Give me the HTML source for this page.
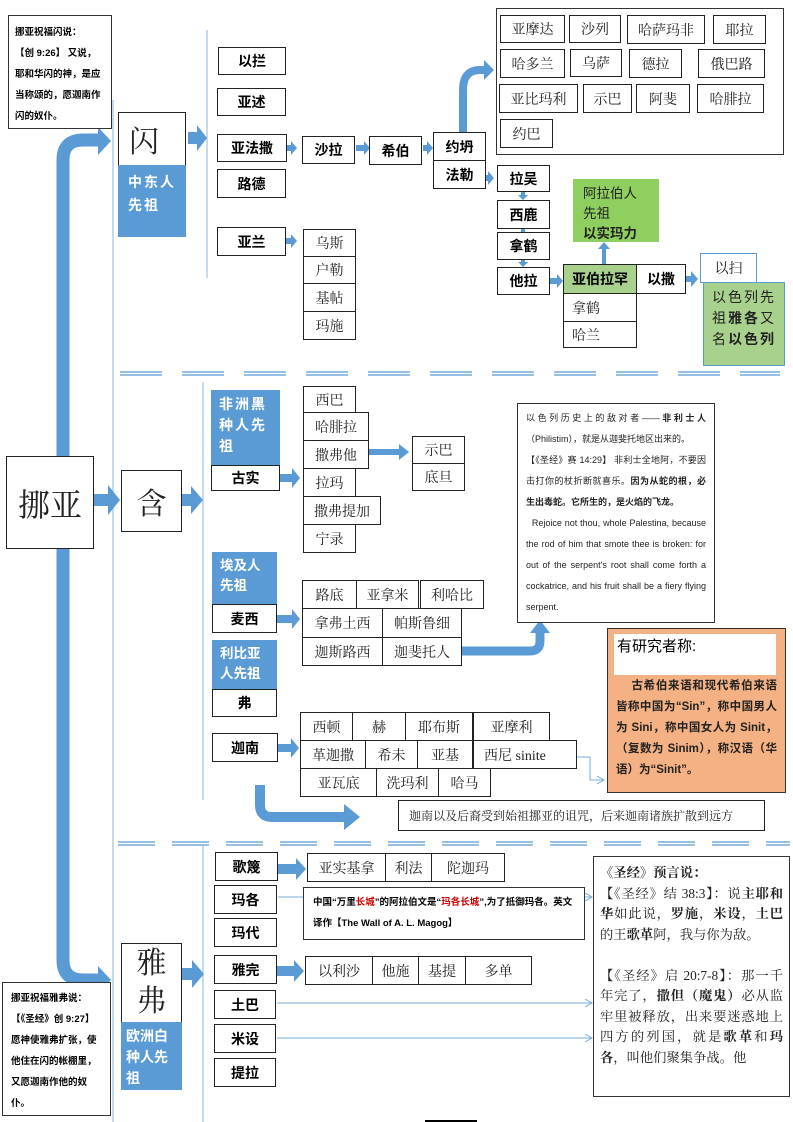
<!DOCTYPE html>
<html><head><meta charset="utf-8"><style>
body{margin:0;width:793px;height:1122px;position:relative;background:#fff;overflow:hidden;font-family:"Liberation Sans","Noto Sans CJK SC",sans-serif;}
.b{position:absolute;box-sizing:border-box;border:1.5px solid #222;background:#fff;display:flex;align-items:center;justify-content:center;font-size:14px;color:#222;}
.k{font-weight:bold;color:#000;}
.s{font-family:"Liberation Serif","Noto Serif CJK SC",serif;font-size:14px;}
.blue{position:absolute;box-sizing:border-box;background:#5b9bd5;color:#fff;font-weight:bold;font-size:14px;line-height:23px;padding:6px 10px;letter-spacing:2px;}
.t{position:absolute;box-sizing:border-box;border:1.5px solid #333;background:#fff;}
svg{position:absolute;left:0;top:0;}
</style></head><body>
<svg width="793" height="1122">
<defs>
<marker id="m" markerWidth="8" markerHeight="8" refX="7" refY="4" orient="auto"><path d="M0,0 L7,4 L0,8" fill="none" stroke="#7aaedb" stroke-width="1"/></marker>
</defs>
<line x1="113" y1="100" x2="113" y2="1122" stroke="#9cc2e5" stroke-width="1.2"/>
<line x1="207" y1="30" x2="207" y2="278" stroke="#9cc2e5" stroke-width="1.2"/>
<line x1="203" y1="382" x2="203" y2="800" stroke="#9cc2e5" stroke-width="1.2"/>
<line x1="203" y1="846" x2="203" y2="1122" stroke="#9cc2e5" stroke-width="1.2"/>
<g stroke="#5b9bd5" stroke-width="1.3">
<path d="M120,372H780M120,375H780" stroke-dasharray="42,20"/>
<path d="M118,842H790M118,845H790" stroke-dasharray="37,17"/>
</g>
<path d="M63,456 V160 Q63,140 83,140 H100" fill="none" stroke="#5b9bd5" stroke-width="13"/>
<path d="M98,127 L111,141 L98,155Z" fill="#5b9bd5"/>
<path d="M63,548 V960 Q63,980 83,980 H100" fill="none" stroke="#5b9bd5" stroke-width="13"/>
<path d="M98,966 L111,980 L98,994Z" fill="#5b9bd5"/>
<g fill="#5b9bd5">
<path d="M188,132h9v-7l10,13l-10,13v-7h-9z"/>
<path d="M93,494h15v-9l12,15l-12,15v-9h-15z"/>
<path d="M181,494h10v-8l12,14l-12,14v-8h-10z"/>
<path d="M182,968h10v-8l12,14l-12,14v-8h-10z"/>
<path d="M283,145h8v-4l6,7l-6,7v-4h-8z"/>
<path d="M356,145h8v-4l6,7l-6,7v-4h-8z"/>
<path d="M423,145h4v-4l6,7l-6,7v-4h-4z"/>
<path d="M283,238h8v-4l6,7l-6,7v-4h-8z"/>
<path d="M480,175h8v-4l6,7l-6,7v-4h-8z"/>
<path d="M521,191h4v4h3l-5,5l-5,-5h3z"/>
<path d="M521,229h4v4h3l-5,5l-5,-5h3z"/>
<path d="M521,259h4v3h3l-5,5l-5,-5h3z"/>
<path d="M545,278h12v-4l6,7l-6,7v-4h-12z"/>
<path d="M636,279h5v-4l5,6l-5,6v-4h-5z"/>
<path d="M602,264v-15h-4l6,-7l6,7h-4v15z"/>
<path d="M679,276h12v-5l7,8l-7,8v-5h-12z"/>
<path d="M278,474h14v-6l8,10l-8,10v-6h-14z"/>
<path d="M369,449h30v-5l10,8l-10,8v-5h-30z"/>
<path d="M276,615h16v-6l8,10l-8,10v-6h-16z"/>
<path d="M275,744h16v-6l8,10l-8,10v-6h-16z"/>
<path d="M278,864h18v-6l10,11l-10,11v-6h-18z"/>
<path d="M277,966h17v-6l10,11l-10,11v-6h-17z"/>
</g>
<path d="M463,133V90Q463,70 480,70H485" fill="none" stroke="#5b9bd5" stroke-width="8"/>
<path d="M484,60L494,70L484,80Z" fill="#5b9bd5"/>
<path d="M462,651H530Q540,651 540,641V632" fill="none" stroke="#5b9bd5" stroke-width="9"/>
<path d="M530,633L540,620L550,633Z" fill="#5b9bd5"/>
<path d="M260,785V805Q260,817 272,817H345" fill="none" stroke="#5b9bd5" stroke-width="10"/>
<path d="M344,804L360,817L344,830Z" fill="#5b9bd5"/>
<g fill="none" stroke="#7aaedb" stroke-width="1">
<path d="M577,757H590V780H604" marker-end="url(#m)"/>
<path d="M278,897H303"/>
<path d="M585,897H592" marker-end="url(#m)"/>
<path d="M277,1003H592" marker-end="url(#m)"/>
<path d="M277,1038H592" marker-end="url(#m)"/>
</g>
<line x1="425" y1="1121" x2="477" y2="1121" stroke="#000" stroke-width="2"/>
</svg>

<div class="t" style="left:8px;top:15px;width:104px;height:114px;padding:6px 6px;font-size:9.5px;font-weight:bold;line-height:21px;">挪亚祝福闪说：<br>【创 9:26】 又说，耶和华闪的神，是应当称颂的，愿迦南作闪的奴仆。</div>

<div class="b s" style="left:118px;top:112px;width:68px;height:54px;font-size:30px;justify-content:flex-start;padding-left:10px;">闪</div>
<div class="blue" style="left:118px;top:165px;width:68px;height:72px;">中东人先祖</div>

<div class="b k" style="left:218px;top:47px;width:68px;height:28px;">以拦</div>
<div class="b k" style="left:217px;top:88px;width:69px;height:28px;">亚述</div>
<div class="b k" style="left:217px;top:134px;width:70px;height:28px;">亚法撒</div>
<div class="b k" style="left:217px;top:169px;width:69px;height:29px;">路德</div>
<div class="b k" style="left:217px;top:227px;width:69px;height:29px;">亚兰</div>
<div class="b k" style="left:302px;top:136px;width:53px;height:28px;">沙拉</div>
<div class="b k" style="left:369px;top:136px;width:53px;height:29px;">希伯</div>
<div class="b k" style="left:433px;top:132px;width:53px;height:29px;">约坍</div>
<div class="b k" style="left:433px;top:160px;width:53px;height:29px;">法勒</div>
<div class="b s" style="left:303px;top:229px;width:53px;height:28px;">乌斯</div>
<div class="b s" style="left:303px;top:256px;width:53px;height:28px;">户勒</div>
<div class="b s" style="left:303px;top:283px;width:53px;height:29px;">基帖</div>
<div class="b s" style="left:303px;top:311px;width:53px;height:29px;">玛施</div>

<div class="t" style="left:496px;top:8px;width:288px;height:147px;"></div>
<div class="b s" style="left:500px;top:15px;width:65px;height:28px;">亚摩达</div>
<div class="b s" style="left:569px;top:15px;width:52px;height:28px;">沙列</div>
<div class="b s" style="left:627px;top:15px;width:78px;height:29px;">哈萨玛非</div>
<div class="b s" style="left:713px;top:15px;width:53px;height:29px;">耶拉</div>
<div class="b s" style="left:500px;top:49px;width:65px;height:29px;">哈多兰</div>
<div class="b s" style="left:570px;top:49px;width:52px;height:28px;">乌萨</div>
<div class="b s" style="left:629px;top:49px;width:53px;height:29px;">德拉</div>
<div class="b s" style="left:698px;top:49px;width:67px;height:29px;">俄巴路</div>
<div class="b s" style="left:499px;top:84px;width:79px;height:29px;">亚比玛利</div>
<div class="b s" style="left:583px;top:84px;width:49px;height:29px;">示巴</div>
<div class="b s" style="left:636px;top:84px;width:54px;height:29px;">阿斐</div>
<div class="b s" style="left:697px;top:84px;width:67px;height:29px;">哈腓拉</div>
<div class="b s" style="left:500px;top:119px;width:53px;height:29px;">约巴</div>

<div class="b k" style="left:497px;top:165px;width:53px;height:27px;">拉吴</div>
<div class="b k" style="left:497px;top:200px;width:53px;height:29px;">西鹿</div>
<div class="b k" style="left:497px;top:232px;width:53px;height:28px;">拿鹤</div>
<div class="b k" style="left:497px;top:267px;width:53px;height:28px;">他拉</div>
<div class="b" style="left:573px;top:179px;width:86px;height:63px;background:#8fcf5f;border:none;display:block;padding:5px 10px;font-size:13.5px;line-height:20px;">阿拉伯人<br>先祖<br><b>以实玛力</b></div>
<div class="b k" style="left:563px;top:264px;width:74px;height:30px;background:#a9d18e;">亚伯拉罕</div>
<div class="b s" style="left:563px;top:293px;width:74px;height:29px;justify-content:flex-start;padding-left:8px;">拿鹤</div>
<div class="b s" style="left:563px;top:321px;width:74px;height:27px;justify-content:flex-start;padding-left:8px;">哈兰</div>
<div class="b k" style="left:636px;top:264px;width:50px;height:30px;">以撒</div>
<div class="b s" style="left:700px;top:253px;width:57px;height:30px;border-color:#5b9bd5;">以扫</div>
<div class="b" style="left:703px;top:282px;width:82px;height:84px;background:#a9d18e;border-color:#5b9bd5;display:block;padding:4px 8px;font-size:14px;line-height:21px;letter-spacing:2px;text-align:justify;">以色列先祖<b>雅各</b>又名<b>以色列</b></div>

<div class="b s" style="left:6px;top:456px;width:88px;height:93px;font-size:32px;">挪亚</div>
<div class="b s" style="left:121px;top:470px;width:61px;height:62px;font-size:30px;">含</div>

<div class="blue" style="left:211px;top:390px;width:69px;height:76px;padding:4px 8px;line-height:21px;">非洲黑种人先祖</div>
<div class="b k" style="left:211px;top:465px;width:69px;height:26px;">古实</div>
<div class="b s" style="left:303px;top:386px;width:53px;height:27px;">西巴</div>
<div class="b s" style="left:303px;top:412px;width:66px;height:29px;">哈腓拉</div>
<div class="b s" style="left:303px;top:440px;width:66px;height:29px;">撒弗他</div>
<div class="b s" style="left:303px;top:468px;width:53px;height:29px;">拉玛</div>
<div class="b s" style="left:303px;top:496px;width:78px;height:29px;">撒弗提加</div>
<div class="b s" style="left:303px;top:524px;width:53px;height:29px;">宁录</div>
<div class="b s" style="left:412px;top:436px;width:53px;height:28px;">示巴</div>
<div class="b s" style="left:412px;top:463px;width:53px;height:28px;">底旦</div>

<div class="blue" style="left:212px;top:552px;width:65px;height:53px;padding:4px 8px;line-height:20px;letter-spacing:0;font-size:13.5px;">埃及人<br>先祖</div>
<div class="b k" style="left:212px;top:604px;width:65px;height:29px;">麦西</div>
<div class="blue" style="left:212px;top:640px;width:65px;height:50px;padding:4px 8px;line-height:20px;letter-spacing:0;font-size:13.5px;">利比亚<br>人先祖</div>
<div class="b k" style="left:212px;top:689px;width:65px;height:28px;">弗</div>

<div class="b s" style="left:302px;top:580px;width:55px;height:29px;">路底</div>
<div class="b s" style="left:356px;top:580px;width:63px;height:29px;">亚拿米</div>
<div class="b s" style="left:420px;top:580px;width:64px;height:29px;">利哈比</div>
<div class="b s" style="left:302px;top:608px;width:81px;height:30px;">拿弗土西</div>
<div class="b s" style="left:382px;top:608px;width:80px;height:30px;">帕斯鲁细</div>
<div class="b s" style="left:302px;top:637px;width:81px;height:29px;">迦斯路西</div>
<div class="b s" style="left:382px;top:637px;width:80px;height:29px;">迦斐托人</div>

<div class="t" style="left:517px;top:403px;width:198px;height:220px;padding:4px 8px;font-size:9px;line-height:21px;text-align:justify;color:#222;">以色列历史上的敌对者——<b>非利士人</b>（Philistim），就是从迦斐托地区出来的。<br>【《圣经》赛 14:29】 非利士全地阿，不要因击打你的杖折断就喜乐。<b>因为从蛇的根，必生出毒蛇。它所生的，是火焰的飞龙。</b><br>&nbsp;&nbsp;Rejoice not thou, whole Palestina, because the rod of him that smote thee is broken: for out of the serpent's root shall come forth a cockatrice, and his fruit shall be a fiery flying serpent.</div>

<div class="t" style="left:607px;top:628px;width:179px;height:165px;background:#f4b183;padding:47px 8px 0;font-size:11.5px;line-height:21px;text-align:justify;color:#222;font-weight:bold;">&nbsp;&nbsp;&nbsp;&nbsp;古希伯来语和现代希伯来语皆称中国为“Sin”，称中国男人为 Sini，称中国女人为 Sinit，（复数为 Sinim），称汉语（华语）为“Sinit”。</div>
<div style="position:absolute;left:614px;top:634px;width:162px;height:41px;background:#fff;font-size:15px;line-height:26px;padding-left:3px;box-sizing:border-box;">有研究者称:</div>

<div class="b k" style="left:212px;top:733px;width:66px;height:29px;">迦南</div>
<div class="b s" style="left:300px;top:712px;width:53px;height:29px;">西顿</div>
<div class="b s" style="left:352px;top:712px;width:54px;height:29px;">赫</div>
<div class="b s" style="left:405px;top:712px;width:68px;height:29px;">耶布斯</div>
<div class="b s" style="left:473px;top:712px;width:77px;height:29px;">亚摩利</div>
<div class="b s" style="left:300px;top:740px;width:66px;height:29px;">革迦撒</div>
<div class="b s" style="left:365px;top:740px;width:53px;height:29px;">希未</div>
<div class="b s" style="left:417px;top:740px;width:56px;height:29px;">亚基</div>
<div class="b s" style="left:473px;top:740px;width:104px;height:29px;justify-content:flex-start;padding-left:10px;">西尼 sinite</div>
<div class="b s" style="left:300px;top:768px;width:77px;height:29px;">亚瓦底</div>
<div class="b s" style="left:376px;top:768px;width:63px;height:29px;">洗玛利</div>
<div class="b s" style="left:438px;top:768px;width:53px;height:29px;">哈马</div>
<div class="b s" style="left:398px;top:800px;width:367px;height:31px;font-size:12px;border-width:1px;justify-content:flex-start;padding-left:10px;">迦南以及后裔受到始祖挪亚的诅咒，后来迦南诸族扩散到远方</div>

<div class="b s" style="left:121px;top:943px;width:61px;height:80px;font-size:30px;flex-direction:column;line-height:38px;">雅<br>弗</div>
<div class="blue" style="left:121px;top:1022px;width:61px;height:68px;padding:4px 5px;line-height:21px;letter-spacing:0;">欧洲白种人先祖</div>
<div class="t" style="left:2px;top:982px;width:109px;height:134px;padding:5px 8px;font-size:9.5px;font-weight:bold;line-height:21px;">挪亚祝福雅弗说：<br>【《圣经》创 9:27】愿神使雅弗扩张，使他住在闪的帐棚里，又愿迦南作他的奴仆。</div>

<div class="b k" style="left:215px;top:852px;width:63px;height:29px;">歌篾</div>
<div class="b k" style="left:214px;top:885px;width:63px;height:29px;">玛各</div>
<div class="b k" style="left:214px;top:918px;width:63px;height:29px;">玛代</div>
<div class="b k" style="left:214px;top:955px;width:63px;height:29px;">雅完</div>
<div class="b k" style="left:214px;top:990px;width:62px;height:29px;">土巴</div>
<div class="b k" style="left:214px;top:1024px;width:62px;height:29px;">米设</div>
<div class="b k" style="left:214px;top:1058px;width:62px;height:29px;">提拉</div>
<div class="b s" style="left:307px;top:853px;width:79px;height:29px;">亚实基拿</div>
<div class="b s" style="left:385px;top:853px;width:47px;height:29px;">利法</div>
<div class="b s" style="left:431px;top:853px;width:74px;height:29px;">陀迦玛</div>
<div class="t" style="left:303px;top:887px;width:282px;height:53px;padding:4px 9px;font-size:9.5px;font-weight:bold;line-height:21px;border-width:1px;">中国“万里<span style="color:#c00">长城</span>”的阿拉伯文是“<span style="color:#c00">玛各长城</span>”,为了抵御玛各。英文译作【The Wall of A. L. Magog】</div>
<div class="b s" style="left:305px;top:956px;width:68px;height:29px;">以利沙</div>
<div class="b s" style="left:372px;top:956px;width:47px;height:29px;">他施</div>
<div class="b s" style="left:418px;top:956px;width:48px;height:29px;">基提</div>
<div class="b s" style="left:465px;top:956px;width:67px;height:29px;">多单</div>

<div class="t" style="left:593px;top:856px;width:197px;height:241px;padding:6px 6px;font-family:'Liberation Serif','Noto Serif CJK SC',serif;font-size:13.3px;line-height:20.5px;text-align:justify;color:#222;overflow:hidden;"><b>《圣经》预言说：</b><br>【《圣经》结 38:3】：说<b>主耶和华</b>如此说，<b>罗施</b>，<b>米设</b>，<b>土巴</b>的王<b>歌革</b>阿，我与你为敌。<br><br>【《圣经》启 20:7-8】：那一千年完了，<b>撒但（魔鬼）</b>必从监牢里被释放，出来要迷惑地上四方的列国，就是<b>歌革</b>和<b>玛各</b>，叫他们聚集争战。他</div>
</body></html>
